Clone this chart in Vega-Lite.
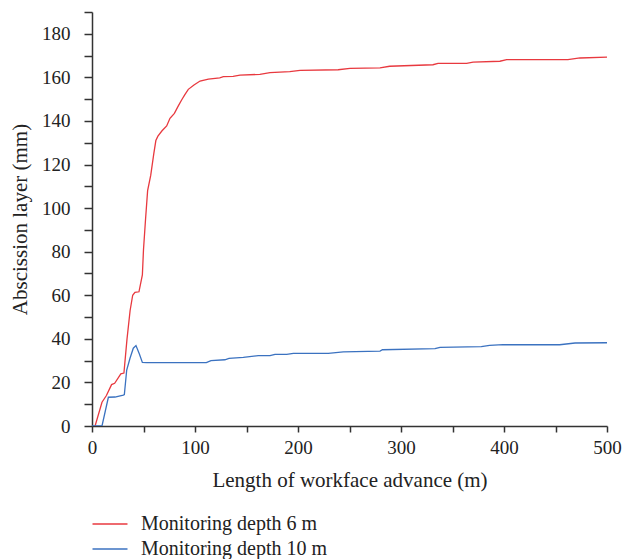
{
  "$schema": "https://vega.github.io/schema/vega-lite/v6.json",
  "width": 515,
  "height": 414,
  "autosize": "none",
  "padding": {"left": 92, "top": 12, "right": 16, "bottom": 133},
  "background": "white",
  "config": {
    "view": {"stroke": null},
    "font": "Liberation Serif",
    "axis": {"grid": false, "domainColor": "#333", "tickColor": "#333", "domainWidth": 1.5, "tickWidth": 1.5, "labelFont": "Liberation Serif", "titleFont": "Liberation Serif", "labelColor": "#222", "titleColor": "#222", "titleFontWeight": "normal", "labelFontSize": 19, "titleFontSize": 21}
  },
  "data": {
    "values": [
      {"series": "Monitoring depth 6 m", "x": 3, "y": 0},
      {"series": "Monitoring depth 6 m", "x": 9.7, "y": 10.9},
      {"series": "Monitoring depth 6 m", "x": 14, "y": 14},
      {"series": "Monitoring depth 6 m", "x": 19, "y": 19},
      {"series": "Monitoring depth 6 m", "x": 22, "y": 19.6},
      {"series": "Monitoring depth 6 m", "x": 28, "y": 23.9},
      {"series": "Monitoring depth 6 m", "x": 31, "y": 24.3},
      {"series": "Monitoring depth 6 m", "x": 34, "y": 40},
      {"series": "Monitoring depth 6 m", "x": 37, "y": 53},
      {"series": "Monitoring depth 6 m", "x": 39.5, "y": 60},
      {"series": "Monitoring depth 6 m", "x": 41.7, "y": 61.3},
      {"series": "Monitoring depth 6 m", "x": 45.6, "y": 61.6},
      {"series": "Monitoring depth 6 m", "x": 48.9, "y": 69.3},
      {"series": "Monitoring depth 6 m", "x": 50, "y": 81},
      {"series": "Monitoring depth 6 m", "x": 52, "y": 95},
      {"series": "Monitoring depth 6 m", "x": 54, "y": 108},
      {"series": "Monitoring depth 6 m", "x": 57, "y": 115},
      {"series": "Monitoring depth 6 m", "x": 60, "y": 125},
      {"series": "Monitoring depth 6 m", "x": 62, "y": 131},
      {"series": "Monitoring depth 6 m", "x": 64, "y": 133},
      {"series": "Monitoring depth 6 m", "x": 68, "y": 135.5},
      {"series": "Monitoring depth 6 m", "x": 72.5, "y": 137.7},
      {"series": "Monitoring depth 6 m", "x": 75.7, "y": 141.2},
      {"series": "Monitoring depth 6 m", "x": 80, "y": 143.5},
      {"series": "Monitoring depth 6 m", "x": 83.8, "y": 146.9},
      {"series": "Monitoring depth 6 m", "x": 87, "y": 149.6},
      {"series": "Monitoring depth 6 m", "x": 90, "y": 152},
      {"series": "Monitoring depth 6 m", "x": 93.5, "y": 154.5},
      {"series": "Monitoring depth 6 m", "x": 99, "y": 156.5},
      {"series": "Monitoring depth 6 m", "x": 104.9, "y": 158.3},
      {"series": "Monitoring depth 6 m", "x": 113, "y": 159.2},
      {"series": "Monitoring depth 6 m", "x": 124, "y": 159.8},
      {"series": "Monitoring depth 6 m", "x": 127.5, "y": 160.3},
      {"series": "Monitoring depth 6 m", "x": 137, "y": 160.5},
      {"series": "Monitoring depth 6 m", "x": 143.7, "y": 161},
      {"series": "Monitoring depth 6 m", "x": 163, "y": 161.4},
      {"series": "Monitoring depth 6 m", "x": 172.8, "y": 162.2},
      {"series": "Monitoring depth 6 m", "x": 192, "y": 162.6},
      {"series": "Monitoring depth 6 m", "x": 202, "y": 163.2},
      {"series": "Monitoring depth 6 m", "x": 239, "y": 163.5},
      {"series": "Monitoring depth 6 m", "x": 250.5, "y": 164.1},
      {"series": "Monitoring depth 6 m", "x": 279.6, "y": 164.4},
      {"series": "Monitoring depth 6 m", "x": 289, "y": 165.1},
      {"series": "Monitoring depth 6 m", "x": 331, "y": 165.8},
      {"series": "Monitoring depth 6 m", "x": 336, "y": 166.4},
      {"series": "Monitoring depth 6 m", "x": 363.7, "y": 166.4},
      {"series": "Monitoring depth 6 m", "x": 370, "y": 167},
      {"series": "Monitoring depth 6 m", "x": 396, "y": 167.4},
      {"series": "Monitoring depth 6 m", "x": 402.6, "y": 168.1},
      {"series": "Monitoring depth 6 m", "x": 462, "y": 168.1},
      {"series": "Monitoring depth 6 m", "x": 473.8, "y": 168.9},
      {"series": "Monitoring depth 6 m", "x": 500, "y": 169.3},
      {"series": "Monitoring depth 10 m", "x": 0, "y": 0},
      {"series": "Monitoring depth 10 m", "x": 9.7, "y": 0},
      {"series": "Monitoring depth 10 m", "x": 15.9, "y": 13.2},
      {"series": "Monitoring depth 10 m", "x": 22.3, "y": 13.3},
      {"series": "Monitoring depth 10 m", "x": 30.4, "y": 14.2},
      {"series": "Monitoring depth 10 m", "x": 31.4, "y": 14.4},
      {"series": "Monitoring depth 10 m", "x": 33.7, "y": 25.7},
      {"series": "Monitoring depth 10 m", "x": 36.9, "y": 31.1},
      {"series": "Monitoring depth 10 m", "x": 40.1, "y": 35.7},
      {"series": "Monitoring depth 10 m", "x": 42.7, "y": 36.9},
      {"series": "Monitoring depth 10 m", "x": 46, "y": 33},
      {"series": "Monitoring depth 10 m", "x": 48.9, "y": 29.2},
      {"series": "Monitoring depth 10 m", "x": 53, "y": 29.1},
      {"series": "Monitoring depth 10 m", "x": 111, "y": 29.1},
      {"series": "Monitoring depth 10 m", "x": 115.5, "y": 30},
      {"series": "Monitoring depth 10 m", "x": 129, "y": 30.4},
      {"series": "Monitoring depth 10 m", "x": 133, "y": 31},
      {"series": "Monitoring depth 10 m", "x": 146.9, "y": 31.5},
      {"series": "Monitoring depth 10 m", "x": 161.5, "y": 32.3},
      {"series": "Monitoring depth 10 m", "x": 172.8, "y": 32.3},
      {"series": "Monitoring depth 10 m", "x": 177.7, "y": 32.9},
      {"series": "Monitoring depth 10 m", "x": 189, "y": 32.9},
      {"series": "Monitoring depth 10 m", "x": 195.5, "y": 33.3},
      {"series": "Monitoring depth 10 m", "x": 229.4, "y": 33.3},
      {"series": "Monitoring depth 10 m", "x": 244, "y": 34},
      {"series": "Monitoring depth 10 m", "x": 279.6, "y": 34.4},
      {"series": "Monitoring depth 10 m", "x": 282, "y": 35},
      {"series": "Monitoring depth 10 m", "x": 333, "y": 35.5},
      {"series": "Monitoring depth 10 m", "x": 337.9, "y": 36.1},
      {"series": "Monitoring depth 10 m", "x": 378, "y": 36.4},
      {"series": "Monitoring depth 10 m", "x": 386, "y": 37},
      {"series": "Monitoring depth 10 m", "x": 399, "y": 37.3},
      {"series": "Monitoring depth 10 m", "x": 454, "y": 37.3},
      {"series": "Monitoring depth 10 m", "x": 469, "y": 38.1},
      {"series": "Monitoring depth 10 m", "x": 500, "y": 38.2}
    ]
  },
  "mark": {"type": "line", "strokeWidth": 1.3, "clip": true},
  "encoding": {
    "x": {
      "field": "x", "type": "quantitative",
      "scale": {"domain": [0, 500], "nice": false},
      "axis": {
        "title": "Length of workface advance (m)",
        "values": [0, 50, 100, 150, 200, 250, 300, 350, 400, 450, 500],
        "labelExpr": "datum.value % 100 == 0 ? datum.label : ''",
        "tickSize": 6, "labelPadding": 6, "titlePadding": 12, "labelFlush": false
      }
    },
    "y": {
      "field": "y", "type": "quantitative",
      "scale": {"domain": [0, 190], "nice": false},
      "axis": {
        "title": "Abscission layer (mm)",
        "values": [0, 10, 20, 30, 40, 50, 60, 70, 80, 90, 100, 110, 120, 130, 140, 150, 160, 170, 180, 190],
        "labelExpr": "datum.value % 20 == 0 ? datum.label : ''",
        "tickSize": 8, "labelPadding": 14, "titlePadding": 11, "labelFlush": false
      }
    },
    "color": {
      "field": "series", "type": "nominal",
      "scale": {"domain": ["Monitoring depth 6 m", "Monitoring depth 10 m"], "range": ["#e8393f", "#3b72c0"]},
      "legend": {
        "title": null, "orient": "none", "legendX": 8, "legendY": 502,
        "direction": "vertical", "symbolType": "M-2,0H2", "symbolSize": 306,
        "symbolStrokeWidth": 1.5, "symbolFillColor": "transparent", "labelFontSize": 20, "labelFont": "Liberation Serif",
        "labelColor": "#222", "labelOffset": 21, "labelLimit": 400, "rowPadding": 5, "padding": 0
      }
    }
  }
}
